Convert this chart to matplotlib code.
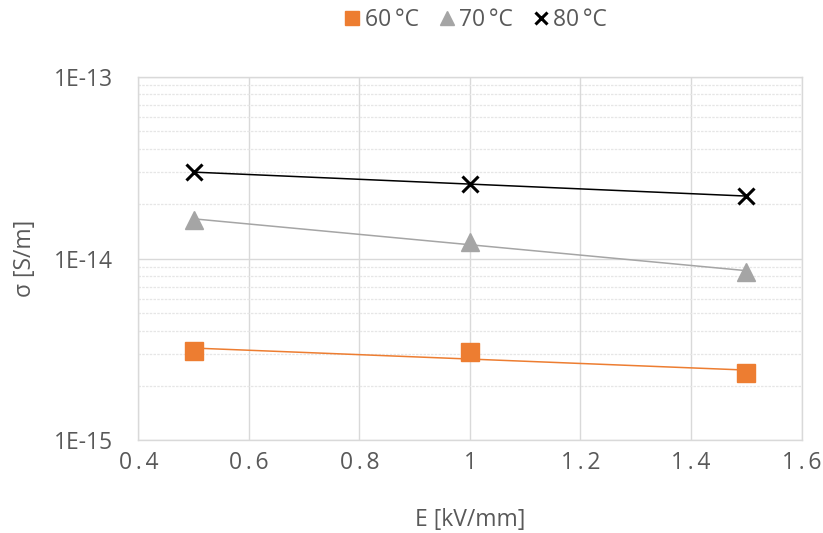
import numpy as np
import matplotlib
matplotlib.use("Agg")
import matplotlib.pyplot as plt
from matplotlib.ticker import FixedLocator, LogLocator, NullFormatter, FixedFormatter

plt.rcParams['font.family'] = ['Open Sans', 'DejaVu Sans']

field = [0.5, 1.0, 1.5]
sigma_60 = [3.08e-15, 3.05e-15, 2.33e-15]
sigma_70 = [1.62e-14, 1.24e-14, 8.4e-15]
sigma_80 = [2.98e-14, 2.58e-14, 2.2e-14]
series_labels = ['60\u2009\u00b0C', '70\u2009\u00b0C', '80\u2009\u00b0C']
x_ticks = [0.4, 0.6, 0.8, 1.0, 1.2, 1.4, 1.6]
x_tick_labels = ['0\u2009.\u20094', '0\u2009.\u20096', '0\u2009.\u20098', '1',
                 '1\u2009.\u20092', '1\u2009.\u20094', '1\u2009.\u20096']
y_ticks = [1e-15, 1e-14, 1e-13]
y_tick_labels = ['1E-15', '1E-14', '1E-13']

text_color = '#595959'
grid_color = '#D9D9D9'
fs = 16.5

fig = plt.figure(figsize=(8.23, 5.33), dpi=100)
ax = fig.add_axes([0.168, 0.174, 0.806, 0.682])
ax.set_yscale('log')

styles = [
    dict(color='#ED7D31', marker='s', ms=13, mec='#ED7D31'),
    dict(color='#A5A5A5', marker='^', ms=13, mec='#A5A5A5'),
    dict(color='black', marker='x', ms=11, mew=2.2),
]
series = [sigma_60, sigma_70, sigma_80]

x = np.array(field)
for vals, label, st in zip(series, series_labels, styles):
    # exponential trend line through each temperature's points
    k, c = np.polyfit(x, np.log(vals), 1)
    xf = np.linspace(x.min(), x.max(), 50)
    ax.plot(xf, np.exp(c + k * xf), color=st['color'], lw=1.1, zorder=2)
    ax.plot(x, vals, linestyle='none', label=label, zorder=3, **st)

ax.set_xlim(0.4, 1.6)
ax.set_ylim(1e-15, 1e-13)
ax.xaxis.set_major_locator(FixedLocator(x_ticks))
ax.xaxis.set_major_formatter(FixedFormatter(x_tick_labels))
ax.yaxis.set_major_locator(FixedLocator(y_ticks))
ax.yaxis.set_major_formatter(FixedFormatter(y_tick_labels))
ax.yaxis.set_minor_locator(LogLocator(base=10, subs=np.arange(2, 10)))
ax.yaxis.set_minor_formatter(NullFormatter())

ax.grid(True, which='major', axis='both', color=grid_color, lw=1.0)
ax.grid(True, which='minor', axis='y', color='#E6E6E6', lw=0.9, ls=(0, (2, 1)))
ax.set_axisbelow(True)
for s in ax.spines.values():
    s.set_color(grid_color)
    s.set_linewidth(1.0)

ax.tick_params(axis='both', which='both', length=0, colors=text_color, labelsize=fs)
ax.tick_params(axis='x', pad=8)
ax.tick_params(axis='y', pad=18)

ax.set_xlabel('E [kV/mm]', fontsize=fs, color=text_color)
ax.set_ylabel('\u03c3 [S/m]', fontsize=fs, color=text_color)
ax.xaxis.set_label_coords(0.5, -0.185)
ax.yaxis.set_label_coords(-0.152, 0.5)
ax.xaxis.label.set_va('top')

fig.legend(loc='center', bbox_to_anchor=(0.576, 0.962), ncol=3, frameon=False,
           fontsize=fs, labelcolor=text_color, handletextpad=0.05, columnspacing=0.7,
           handlelength=1.0, markerscale=0.75)

fig.savefig('out.png', dpi=100)
